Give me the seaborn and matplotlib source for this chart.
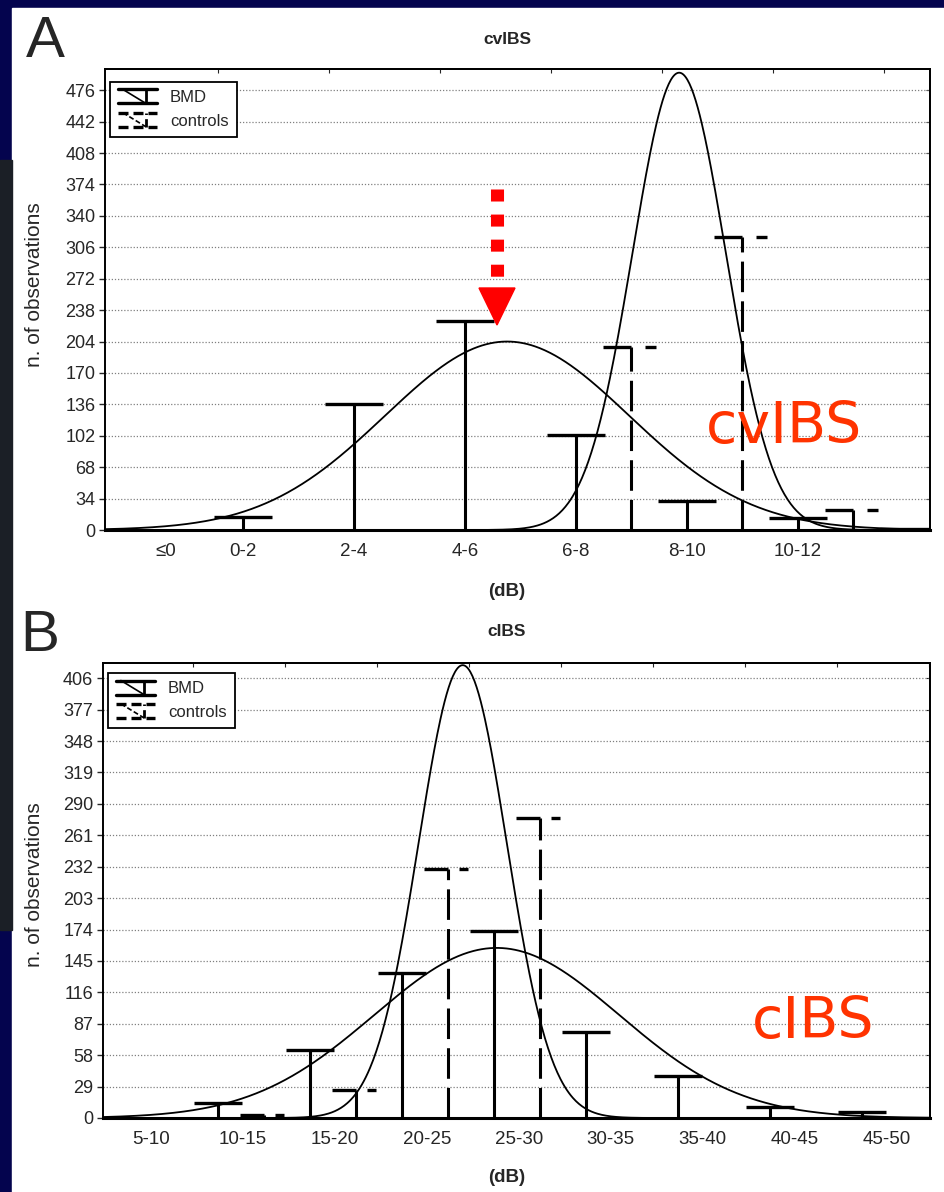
import numpy as np
import matplotlib
matplotlib.use('Agg')
import matplotlib.pyplot as plt
import seaborn as sns
from matplotlib.lines import Line2D
from matplotlib.patches import Rectangle, Polygon
from matplotlib.legend_handler import HandlerBase

sns.set_style('white')
plt.rcParams['font.family'] = ['Liberation Sans', 'DejaVu Sans']

# panel A - cvIBS
cv_bins = ['≤0', '0-2', '2-4', '4-6', '6-8', '8-10', '10-12', '']
cv_bmd = [0, 14, 136, 226, 103, 31, 13, 1]
cv_controls = [0, 0, 0, 0, 198, 317, 22, 0]
cv_yticks = [0, 34, 68, 102, 136, 170, 204, 238, 272, 306, 340, 374, 408, 442, 476]
# fitted normal curves: mean, sd (in bin units), peak height
cv_fit_bmd = (3.38, 1.1, 204)
cv_fit_controls = (4.93, 0.42, 495)

# panel B - cIBS
c_bins = ['5-10', '10-15', '15-20', '20-25', '25-30', '30-35', '35-40', '40-45', '45-50']
c_bmd = [0, 14, 63, 134, 173, 79, 39, 10, 6]
c_controls = [0, 3, 26, 230, 277, 0, 0, 0, 0]
c_yticks = [0, 29, 58, 87, 116, 145, 174, 203, 232, 261, 290, 319, 348, 377, 406]
c_fit_bmd = (4.03, 1.33, 157)
c_fit_controls = (3.66, 0.48, 418)

W, H = 945, 1192
def fx(px):
    return px / W
def fy(py):
    return 1 - py / H


class IconHandler(HandlerBase):
    def __init__(self, dashed):
        super().__init__()
        self.dashed = dashed

    def create_artists(self, legend, orig_handle, xdescent, ydescent,
                       width, height, fontsize, trans):
        x0 = -xdescent
        y0 = -ydescent - 0.1 * height
        h = height * 1.2
        w = width
        ls = (0, (3, 1.5)) if self.dashed else '-'
        arts = []
        for xs, ys, lw in [([x0, x0 + w], [y0 + h, y0 + h], 2.4),
                           ([x0, x0 + w], [y0, y0], 2.4),
                           ([x0 + 0.12 * w, x0 + 0.72 * w], [y0 + h, y0], 1.2),
                           ([x0 + 0.72 * w] * 2, [y0, y0 + h], 2.0)]:
            arts.append(Line2D(xs, ys, color='black', lw=lw, ls=ls, transform=trans))
        return arts


def draw_panel(ax, bins, bmd, controls, fit_bmd, fit_ctrl, yticks, ymax,
               xlim, label_pos, top_ticks):
    idx = np.arange(len(bins))
    b = np.array(bmd)
    c = np.array(controls)
    m = b > 0
    ax.vlines(idx[m], 0, b[m], color='black', lw=2.2, zorder=3)
    ax.hlines(b[m], idx[m] - 0.26, idx[m] + 0.26, color='black', lw=2.4, zorder=3)
    cx = idx + 0.5
    m = c > 0
    ax.vlines(cx[m], 0, c[m], color='black', lw=2.2, linestyles=(0, (10, 3)), zorder=3)
    ax.hlines(c[m], cx[m] - 0.26, cx[m], color='black', lw=2.4, zorder=3)
    ax.hlines(c[m], cx[m] + 0.12, cx[m] + 0.22, color='black', lw=2.4, zorder=3)

    xs = np.linspace(xlim[0], xlim[1], 800)
    for mu, sd, pk in (fit_bmd, fit_ctrl):
        ys = pk * np.exp(-0.5 * ((xs - mu) / sd) ** 2)
        sns.lineplot(x=xs, y=ys, ax=ax, color='black', lw=1.3, zorder=2)

    ax.set_xlim(*xlim)
    ax.set_ylim(0, ymax)
    ax.set_yticks(yticks)
    ax.set_yticklabels([str(t) for t in yticks], fontsize=13)
    ax.set_xticks(label_pos)
    ax.set_xticklabels(bins[:len(label_pos)], fontsize=13.5)
    ax.tick_params(axis='x', length=0, pad=9)
    ax.tick_params(axis='y', direction='out', length=4, width=1, left=True, pad=3)
    ax.yaxis.grid(True, ls=(0, (1, 1.5)), color='#808080', lw=0.9)
    ax.xaxis.grid(False)
    for s in ax.spines.values():
        s.set_color('black')
        s.set_linewidth(1.4)
    ax.spines['bottom'].set_linewidth(2.2)
    ax.set_facecolor('white')
    sec = ax.secondary_yaxis('right')
    sec.set_yticks(yticks)
    sec.tick_params(direction='in', length=3, labelright=False)
    sec.spines['right'].set_linewidth(1.4)
    top = ax.secondary_xaxis('top')
    top.set_xticks(top_ticks)
    top.tick_params(direction='in', length=3, labeltop=False)
    top.spines['top'].set_linewidth(1.4)


fig = plt.figure(figsize=(9.45, 11.92), dpi=100)
fig.patch.set_facecolor('#04044e')
fig.add_artist(Rectangle((fx(12), 0), 1 - fx(12), fy(8), transform=fig.transFigure,
                         color='white', zorder=-2))
fig.add_artist(Rectangle((0, fy(930)), fx(12), fy(160) - fy(930), transform=fig.transFigure,
                         color='#1b1f26', zorder=-2))

axA = fig.add_axes([fx(105), fy(530), fx(930) - fx(105), fy(69) - fy(530)])
posA = list(np.arange(7, dtype=float))
posA[0] = 0.3
draw_panel(axA, cv_bins, cv_bmd, cv_controls, cv_fit_bmd, cv_fit_controls,
           cv_yticks, 499, (-0.243, 7.19), posA, np.arange(7) + 0.775)

axB = fig.add_axes([fx(103), fy(1118), fx(930) - fx(103), fy(663) - fy(1118)])
posB = np.arange(9) + 0.27
draw_panel(axB, c_bins, c_bmd, c_controls, c_fit_bmd, c_fit_controls,
           c_yticks, 420, (-0.25, 8.74), posB, np.arange(9) + 0.73)

for ax, ytop in ((axA, 0.972), (axB, 0.978)):
    h1 = Line2D([], [], color='black')
    h2 = Line2D([], [], color='black', ls='--')
    leg = ax.legend([h1, h2], ['BMD', 'controls'], loc='upper left',
                    bbox_to_anchor=(0.006, ytop), borderaxespad=0, fontsize=12,
                    handler_map={h1: IconHandler(False), h2: IconHandler(True)},
                    handlelength=2.3, handletextpad=0.8, labelspacing=0.5,
                    borderpad=0.5, fancybox=False, framealpha=1)
    leg.get_frame().set_edgecolor('black')
    leg.get_frame().set_linewidth(1.3)
    leg.set_zorder(5)

# texts
fig.text(fx(45), fy(42), 'A', fontsize=42, ha='center', va='center')
fig.text(fx(40), fy(636), 'B', fontsize=42, ha='center', va='center')
fig.text(fx(507), fy(40), 'cvIBS', fontsize=12.5, fontweight='bold', ha='center', va='center')
fig.text(fx(507), fy(631), 'cIBS', fontsize=12.5, fontweight='bold', ha='center', va='center')
fig.text(fx(507), fy(591), '(dB)', fontsize=13.5, fontweight='bold', ha='center', va='center')
fig.text(fx(507), fy(1178), '(dB)', fontsize=13.5, fontweight='bold', ha='center', va='center')
fig.text(fx(35), fy(285), 'n. of observations', fontsize=15, rotation=90, ha='center', va='center')
fig.text(fx(35), fy(885), 'n. of observations', fontsize=15, rotation=90, ha='center', va='center')

fig.text(fx(706), fy(443), 'cvIBS', fontsize=41, color='#ff3300', family='DejaVu Sans',
         ha='left', va='baseline')
fig.text(fx(752), fy(1038), 'cIBS', fontsize=41, color='#ff3300', family='DejaVu Sans',
         ha='left', va='baseline')

# red dotted arrow
fig.add_artist(Line2D([fx(497), fx(497)], [fy(189), fy(282)], transform=fig.transFigure,
                      color='red', lw=9.4, ls=(0, (0.92, 1.0)), solid_capstyle='butt',
                      dash_capstyle='butt', zorder=6))
fig.add_artist(Polygon([[fx(479), fy(288)], [fx(515), fy(288)], [fx(497), fy(325)]],
                       closed=True, transform=fig.transFigure, color='red', zorder=6))

fig.savefig('out.png', dpi=100, facecolor=fig.get_facecolor())
